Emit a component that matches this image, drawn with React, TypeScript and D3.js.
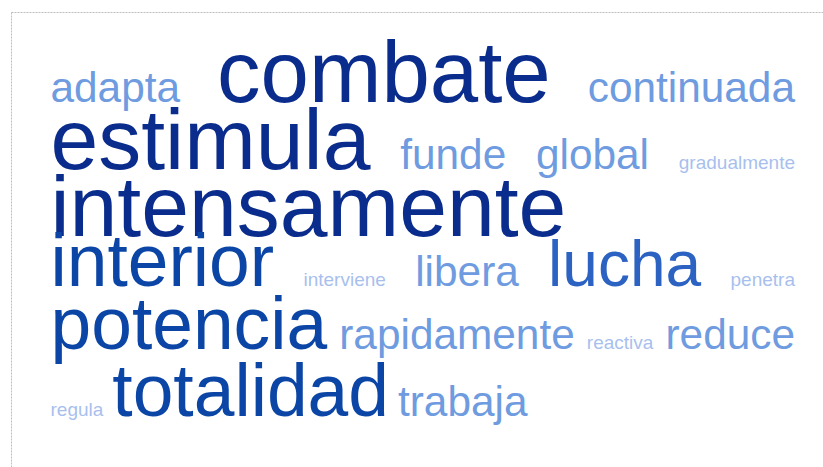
import * as d3 from "d3";
import * as React from "react";

const words = [
  "adapta", "combate", "continuada",
  "estimula", "funde", "global", "gradualmente",
  "intensamente",
  "interior", "interviene", "libera", "lucha", "penetra",
  "potencia", "rapidamente", "reactiva", "reduce",
  "regula", "totalidad", "trabaja",
];
const freq = [
  9.5, 20, 9.5,
  19.75, 9.5, 9.5, 4,
  19.75,
  16.75, 4, 9.5, 14.6, 4,
  16.75, 9.5, 4, 9.5,
  4, 16.75, 9.5,
];
const row = [0, 0, 0, 1, 1, 1, 1, 2, 3, 3, 3, 3, 3, 4, 4, 4, 4, 5, 5, 5];
const rowBaseline = [102, 169, 236, 286, 349, 416];

const W = 823;
const H = 467;
const left = 50.5;
const right = 795;
const lastGap = 9;

export default function App() {
  const ref = React.useRef<SVGSVGElement>(null);

  React.useEffect(() => {
    const svg = d3.select(ref.current);
    svg.selectAll("*").remove();

    const size = d3.scaleLinear().domain([4, 20]).range([19, 87]);
    const color = d3
      .scaleThreshold<number, string>()
      .domain([5, 12, 16, 18.5])
      .range(["#a8bfee", "#6f9be0", "#2c63c2", "#0b46a6", "#0a2c8c"]);

    svg
      .append("rect")
      .attr("x", 11.5)
      .attr("y", 12.5)
      .attr("width", W + 20)
      .attr("height", H + 20)
      .attr("fill", "none")
      .attr("stroke", "#bdbdbd")
      .attr("stroke-dasharray", "2,1");

    const data = words.map((w, i) => ({ w, f: freq[i], r: row[i] }));
    const texts = svg
      .selectAll("text.word")
      .data(data)
      .enter()
      .append("text")
      .attr("class", "word")
      .attr("font-family", "'Liberation Sans', Arial, sans-serif")
      .attr("font-size", (d) => size(d.f))
      .attr("fill", (d) => color(d.f))
      .attr("y", (d) => rowBaseline[d.r])
      .text((d) => d.w);

    const widths: number[] = [];
    texts.each(function (_d, i) {
      widths[i] = (this as SVGTextElement).getComputedTextLength();
    });

    const rows = d3.groups(data.map((d, i) => ({ ...d, i })), (d) => d.r);
    const lastRow = d3.max(row)!;
    const xs: number[] = [];
    rows.forEach(([r, items]) => {
      const total = d3.sum(items, (d) => widths[d.i]);
      const justify = items.length > 1 && r !== lastRow;
      const gap = justify ? (right - left - total) / (items.length - 1) : lastGap;
      let x = left;
      items.forEach((d) => {
        xs[d.i] = x;
        x += widths[d.i] + gap;
      });
    });
    texts.attr("x", (_d, i) => xs[i]);
  }, []);

  return (
    <svg
      ref={ref}
      width={W}
      height={H}
      style={{ position: "absolute", left: 0, top: 0, background: "#fff" }}
    />
  );
}
